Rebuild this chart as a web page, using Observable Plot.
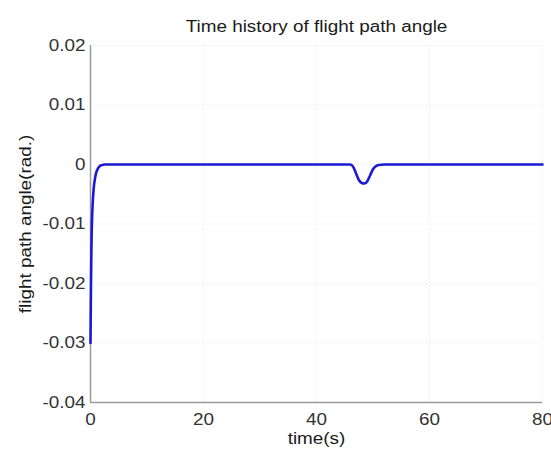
<!DOCTYPE html>
<html>
<head>
<meta charset="utf-8">
<script src="https://cdn.jsdelivr.net/npm/d3@7"></script>
<script src="https://cdn.jsdelivr.net/npm/@observablehq/plot@0.6"></script>
<style>
  html, body { margin: 0; padding: 0; background: #fff; }
</style>
</head>
<body>
<div id="chart"></div>
<script>
// Flight path angle response (rad.) sampled over time (s)
const time = [0, 0.05, 0.1, 0.15, 0.2, 0.3, 0.4, 0.5, 0.6, 0.8, 1.0, 1.3, 1.6, 2.0, 2.5, 3.0,
              46, 46.5, 47, 47.5, 48, 48.5, 49, 49.5, 50, 50.5, 51, 52, 80];
const gamma = [-0.03, -0.024, -0.019, -0.015, -0.012, -0.0085, -0.0063, -0.0048, -0.0037, -0.0023, -0.0014, -0.0007, -0.0003, -0.0001, 0, 0,
               0, -0.0004, -0.0015, -0.0026, -0.0031, -0.0032, -0.0028, -0.0018, -0.0008, -0.0003, -0.0001, 0, 0];

const xTicks = [0, 20, 40, 60, 80];
const yTicks = [-0.04, -0.03, -0.02, -0.01, 0, 0.01, 0.02];
const titleText = "Time history of flight path angle";
const xLabel = "time(s)";
const yLabel = "flight path angle(rad.)";

const data = time.map((t, i) => ({t, g: gamma[i]}));
const fmtY = d => d === 0 ? "0" : d3.format(".2f")(d).replace("\u2212", "-");

const chart = Plot.plot({
  width: 551,
  height: 450,
  marginLeft: 90,
  marginRight: 9,
  marginTop: 45,
  marginBottom: 48,
  style: {fontFamily: "Liberation Sans, Arial, sans-serif", fontSize: "16px", color: "#333", background: "#fff"},
  x: {domain: [0, 80], ticks: xTicks, label: null},
  y: {domain: [-0.04, 0.02], ticks: yTicks, label: null},
  marks: [
    Plot.gridX(xTicks, {stroke: "#c8c8c8", strokeOpacity: 0.55, strokeDasharray: "1,3"}),
    Plot.gridY(yTicks, {stroke: "#c8c8c8", strokeOpacity: 0.55, strokeDasharray: "1,3"}),
    Plot.axisX(xTicks, {tickSize: 0, tickPadding: 11, fontSize: 16, fill: "#333", label: null}),
    Plot.axisY(yTicks, {tickSize: 0, tickPadding: 5, fontSize: 16, fill: "#333", tickFormat: fmtY, label: null}),
    Plot.ruleX([0], {stroke: "#9a9a9a", strokeWidth: 1.5}),
    Plot.ruleY([-0.04], {stroke: "#9a9a9a", strokeWidth: 1.5}),
    Plot.line(data, {x: "t", y: "g", stroke: "#1a1ad6", strokeWidth: 2.6, curve: "monotone-x"}),
    Plot.text([titleText], {frameAnchor: "top", dy: -25, fontSize: 16, fill: "#1a1a1a"}),
    Plot.text([xLabel], {frameAnchor: "bottom", dy: 41, fontSize: 16, fill: "#1a1a1a"}),
    Plot.text([yLabel], {frameAnchor: "left", textAnchor: "middle", dx: -65, rotate: -90, fontSize: 16, fill: "#1a1a1a"})
  ]
});
document.getElementById("chart").appendChild(chart);

// Widen the lettering slightly so it reads like the original MATLAB figure
chart.querySelectorAll("text").forEach(t => {
  if (t.querySelector("tspan")) return;
  const w = t.getComputedTextLength();
  if (w > 0) {
    t.setAttribute("textLength", (w * 1.18).toFixed(1));
    t.setAttribute("lengthAdjust", "spacingAndGlyphs");
  }
});
</script>
</body>
</html>
